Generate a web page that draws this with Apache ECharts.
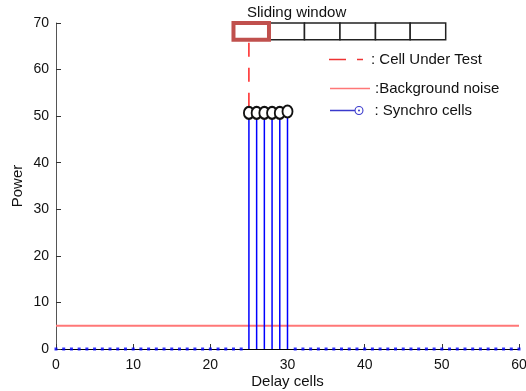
<!DOCTYPE html>
<html>
<head>
<meta charset="utf-8">
<script src="https://cdn.jsdelivr.net/npm/echarts@6/dist/echarts.min.js"></script>
<style>
html, body { margin: 0; padding: 0; background: #fff; }
#chart { width: 526px; height: 391px; }
</style>
</head>
<body>
<div id="chart"></div>
<script>
// delay cells holding the synchro peaks and their power
var synchroCells = [25, 26, 27, 28, 29, 30];
var synchroPower = [50.7, 50.7, 50.7, 50.7, 50.7, 51.0];
// background noise level over the whole delay span
var noiseLevel = 5;
var delaySpan = [0, 60];
// cell under test marker (x, y start, y end)
var cutCell = 25;
var cutRange = [52, 65.8];
// sliding window cell edges (delay units) and its vertical span (power units)
var windowEdges = [23, 27.6, 32.2, 36.8, 41.4, 45.9, 50.5];
var windowSpan = [66.4, 70];
var xTicks = [0, 10, 20, 30, 40, 50, 60];
var yTicks = [0, 10, 20, 30, 40, 50, 60, 70];

var font = 'Liberation Sans, Arial, sans-serif';

// every other cell sits at zero power
var zeroCells = [];
for (var c = delaySpan[0]; c <= delaySpan[1]; c++) {
	if (synchroCells.indexOf(c) < 0) zeroCells.push([c, 0]);
}

var stemData = synchroCells.map(function (x, i) { return [x, synchroPower[i]]; });
var windowData = [];
for (var i = 0; i < windowEdges.length - 1; i++) {
	windowData.push([windowEdges[i], windowEdges[i + 1], i]);
}

// legend icons drawn as paths (dash-dot, solid line, line + ringed dot)
var iconDash = 'path://M0,0h17v1.3h-17z M28,0h6v1.3h-6z';
var iconLine = 'path://M0,0h40v1.6h-40z';
var iconStem = 'path://M0,4.3h25v1.4h-25z M24.5,5a4.5,4.5 0 1,1 9,0a4.5,4.5 0 1,1 -9,0z M25.6,5a3.4,3.4 0 1,0 6.8,0a3.4,3.4 0 1,0 -6.8,0z M28,5a1,1 0 1,0 2,0a1,1 0 1,0 -2,0z';

var myChart = echarts.init(document.getElementById('chart'));

var option = {
	animation: false,
	backgroundColor: '#fff',
	textStyle: { fontFamily: font },
	title: {
		text: 'Sliding window',
		left: 242,
		top: 0,
		textStyle: { fontFamily: font, fontSize: 15, fontWeight: 'normal', color: '#111' }
	},
	grid: { left: 56, right: 7, top: 23, bottom: 42, containLabel: false, outerBoundsMode: 'none' },
	legend: [
		{
			data: [{ name: ': Cell Under Test', icon: iconDash, itemStyle: { color: '#ee3333' } }],
			left: 324, top: 47,
			itemWidth: 34, itemHeight: 1.3,
			textStyle: { fontFamily: font, fontSize: 15, color: '#111', padding: [0, 0, 0, 3] }
		},
		{
			data: [{ name: ':Background noise', icon: iconLine, itemStyle: { color: '#ff7777' } }],
			left: 325, top: 76,
			itemWidth: 40, itemHeight: 1.6,
			textStyle: { fontFamily: font, fontSize: 15, color: '#111' }
		},
		{
			data: [{ name: ': Synchro cells', icon: iconStem, itemStyle: { color: '#3a3acc' } }],
			left: 325, top: 98,
			itemWidth: 33.5, itemHeight: 9,
			textStyle: { fontFamily: font, fontSize: 15, color: '#111', padding: [0, 0, 0, 6] }
		}
	],
	xAxis: {
		type: 'value',
		min: delaySpan[0], max: delaySpan[1], interval: 10,
		name: 'Delay cells', nameLocation: 'middle', nameGap: 25, nameMoveOverlap: false,
		nameTextStyle: { fontFamily: font, fontSize: 15, color: '#111' },
		axisLine: { lineStyle: { color: '#000', width: 1 } },
		axisTick: { inside: true, length: 5, lineStyle: { color: '#333' } },
		axisLabel: { fontFamily: font, fontSize: 14, color: '#111', margin: 9,
			formatter: function (v) { return xTicks.indexOf(v) >= 0 ? v : ''; } },
		splitLine: { show: false }
	},
	yAxis: {
		type: 'value',
		min: 0, max: 70, interval: 10,
		name: 'Power', nameLocation: 'middle', nameGap: 31, nameMoveOverlap: false,
		nameTextStyle: { fontFamily: font, fontSize: 15, color: '#111' },
		axisLine: { show: true, lineStyle: { color: '#555', width: 1 } },
		axisTick: { show: true, inside: true, length: 5, lineStyle: { color: '#333' } },
		axisLabel: { fontFamily: font, fontSize: 14, color: '#111', margin: 7,
			formatter: function (v) { return yTicks.indexOf(v) >= 0 ? v : ''; } },
		splitLine: { show: false }
	},
	series: [
		{
			name: ':Background noise',
			type: 'line',
			data: [[delaySpan[0], noiseLevel], [delaySpan[1], noiseLevel]],
			symbol: 'none',
			itemStyle: { color: '#ff7777' },
			lineStyle: { color: '#ff7777', width: 2 },
			z: 2
		},
		{
			// stems of the synchro cells
			type: 'custom',
			data: stemData,
			renderItem: function (params, api) {
				var top = api.coord([api.value(0), api.value(1)]);
				var bot = api.coord([api.value(0), 0]);
				return {
					type: 'line',
					shape: { x1: top[0], y1: top[1] + 6, x2: bot[0], y2: bot[1] },
					style: { stroke: '#0000ff', lineWidth: 1.5 }
				};
			},
			z: 3
		},
		{
			name: ': Synchro cells',
			type: 'line',
			data: stemData,
			symbol: 'emptyCircle',
			symbolSize: [10, 12],
			itemStyle: { color: '#111', borderWidth: 1.2 },
			lineStyle: { opacity: 0 },
			z: 4
		},
		{
			type: 'scatter',
			data: zeroCells,
			symbol: 'rect',
			symbolSize: [3, 3],
			itemStyle: { color: '#0000ff' },
			z: 5
		},
		{
			name: ': Cell Under Test',
			type: 'line',
			data: [[cutCell, cutRange[0]], [cutCell, cutRange[1]]],
			symbol: 'none',
			itemStyle: { color: '#ff0000' },
			lineStyle: { color: '#ff0000', width: 1.3, type: [14, 11] },
			z: 3
		},
		{
			// sliding window boxes
			type: 'custom',
			data: windowData,
			clip: false,
			renderItem: function (params, api) {
				var p0 = api.coord([api.value(0), windowSpan[1]]);
				var p1 = api.coord([api.value(1), windowSpan[0]]);
				var first = api.value(2) === 0;
				return {
					type: 'rect',
					shape: { x: p0[0], y: p0[1], width: p1[0] - p0[0], height: p1[1] - p0[1] },
					style: first
						? { fill: '#fff', stroke: '#c0504d', lineWidth: 4 }
						: { fill: '#fff', stroke: '#222', lineWidth: 1.5 },
					z2: first ? 10 : 1
				};
			},
			z: 6
		}
	]
};

myChart.setOption(option);
</script>
</body>
</html>
